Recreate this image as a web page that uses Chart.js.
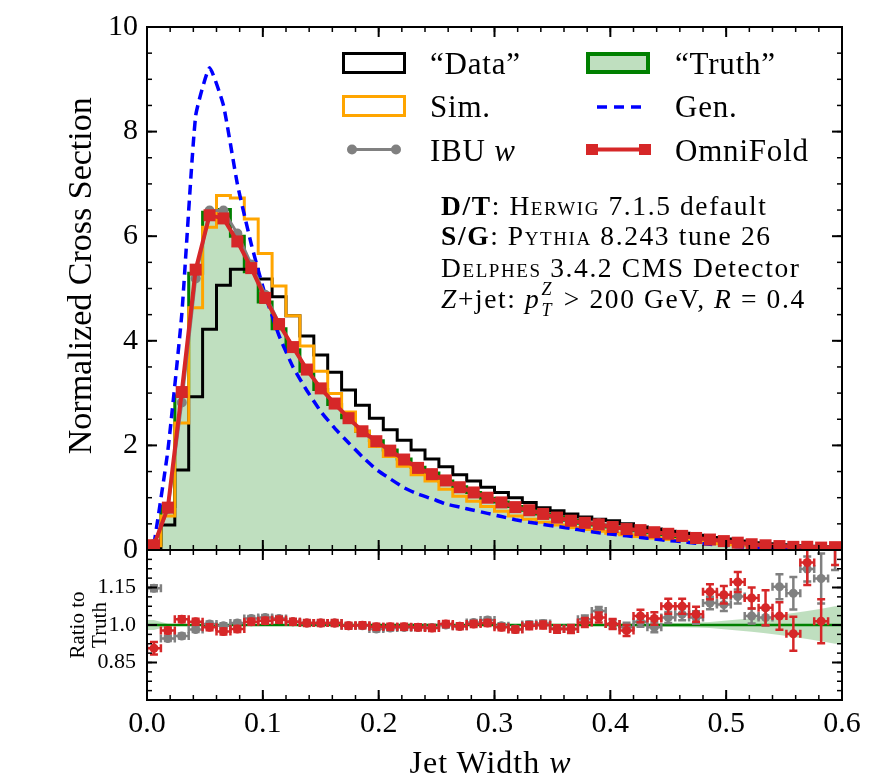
<!DOCTYPE html>
<html>
<head>
<meta charset="utf-8">
<title>Jet width unfolding</title>
<script src="https://cdn.jsdelivr.net/npm/chart.js@4.4.1/dist/chart.umd.min.js"></script>
<style>
  body { margin: 0; background: #fff; }
  #wrap { position: relative; width: 886px; height: 779px; overflow: hidden;
          font-family: "Liberation Serif", "Times New Roman", serif; color: #000; }
  #wrap canvas, #wrap svg { position: absolute; left: 0; }
  .lab { position: absolute; white-space: nowrap; line-height: 1; }
  .leg { font-size: 31px; letter-spacing: 0.8px; }
  .note { font-size: 27.5px; left: 441px; letter-spacing: 1.6px; }
  .sc { font-variant: small-caps; }
  .ss { position: relative; display: inline-block; width: 15px; height: 10px; }
  .ss i { position: absolute; left: 1px; font-size: 18px; line-height: 1; letter-spacing: 0; }
  .ss .sup { top: -18px; }
  .ss .sub { top: 3px; }
</style>
</head>
<body>
<div id="wrap">
  <canvas id="mainChart" width="886" height="590" style="top:0"></canvas>
  <canvas id="ratioChart" width="886" height="259" style="top:520px"></canvas>

  <!-- legend swatches -->
  <svg width="886" height="200" style="top:0">
    <rect x="343.5" y="53.5" width="61" height="19" fill="none" stroke="#000" stroke-width="3"/>
    <rect x="588" y="54" width="60" height="18" fill="rgba(0,128,0,0.25)" stroke="#008000" stroke-width="4"/>
    <rect x="343.5" y="96.5" width="61" height="19" fill="none" stroke="#ffa500" stroke-width="3"/>
    <line x1="597" y1="107" x2="641" y2="107" stroke="#0000ff" stroke-width="3.5" stroke-dasharray="10,7"/>
    <line x1="352" y1="149.5" x2="396" y2="149.5" stroke="#808080" stroke-width="3"/>
    <circle cx="352" cy="149.5" r="5" fill="#808080"/>
    <circle cx="396" cy="149.5" r="5" fill="#808080"/>
    <line x1="592" y1="149.5" x2="645" y2="149.5" stroke="#d62728" stroke-width="4"/>
    <rect x="586" y="144" width="12" height="11" fill="#d62728"/>
    <rect x="639" y="144" width="12" height="11" fill="#d62728"/>
  </svg>

  <div class="lab leg" style="left:430px;top:48px">“Data”</div>
  <div class="lab leg" style="left:675px;top:48px">“Truth”</div>
  <div class="lab leg" style="left:430px;top:91px">Sim.</div>
  <div class="lab leg" style="left:675px;top:91px">Gen.</div>
  <div class="lab leg" style="left:430px;top:135px">IBU <i>w</i></div>
  <div class="lab leg" style="left:675px;top:135px">OmniFold</div>

  <div class="lab note" style="top:192px"><b>D/T</b>: <span class="sc">Herwig</span> 7.1.5 default</div>
  <div class="lab note" style="top:222px"><b>S/G</b>: <span class="sc">Pythia</span> 8.243 tune 26</div>
  <div class="lab note" style="top:254px"><span class="sc">Delphes</span> 3.4.2 CMS Detector</div>
  <div class="lab note" style="top:285px"><i>Z</i>+jet: <i>p</i><span class="ss"><i class="sup">Z</i><i class="sub">T</i></span> &gt; 200 GeV, <i>R</i> = 0.4</div>

  <div class="lab" style="left:143px;width:695px;text-align:center;top:746px;font-size:32px;letter-spacing:1px">Jet Width <i>w</i></div>
</div>

<script>
// bin edges of the jet width histogram (50 bins)
const binEdges = [0.000, 0.012, 0.024, 0.036, 0.048, 0.060, 0.072, 0.084, 0.096, 0.108,
  0.120, 0.132, 0.144, 0.156, 0.168, 0.180, 0.192, 0.204, 0.216, 0.228,
  0.240, 0.252, 0.264, 0.276, 0.288, 0.300, 0.312, 0.324, 0.336, 0.348,
  0.360, 0.372, 0.384, 0.396, 0.408, 0.420, 0.432, 0.444, 0.456, 0.468,
  0.480, 0.492, 0.504, 0.516, 0.528, 0.540, 0.552, 0.564, 0.576, 0.588, 0.600];

// "Data" (detector level, black step)
const dataVals = [0.03, 0.48, 1.53, 2.93, 4.22, 5.06, 5.37, 5.37, 5.18, 4.84,
  4.48, 4.09, 3.73, 3.40, 3.06, 2.77, 2.52, 2.30, 2.10, 1.91,
  1.74, 1.59, 1.44, 1.32, 1.20, 1.10, 1.00, 0.91, 0.81, 0.75,
  0.69, 0.63, 0.59, 0.56, 0.50, 0.44, 0.40, 0.36, 0.32, 0.28,
  0.24, 0.21, 0.17, 0.14, 0.12, 0.10, 0.08, 0.07, 0.06, 0.05];

// "Truth" (filled green)
const truthVals = [0.10, 0.83, 2.95, 5.29, 6.46, 6.51, 6.00, 5.32, 4.74, 4.23,
  3.83, 3.42, 3.07, 2.78, 2.53, 2.27, 2.09, 1.91, 1.74, 1.58,
  1.47, 1.32, 1.21, 1.10, 0.99, 0.92, 0.83, 0.76, 0.69, 0.63,
  0.57, 0.51, 0.48, 0.44, 0.41, 0.37, 0.33, 0.29, 0.25, 0.22,
  0.18, 0.15, 0.12, 0.10, 0.085, 0.072, 0.062, 0.05, 0.045, 0.04];

// Sim. (orange step)
const simVals = [0.08, 0.65, 2.43, 4.63, 6.17, 6.78, 6.73, 6.33, 5.67, 5.05,
  4.48, 3.90, 3.42, 2.99, 2.64, 2.27, 1.98, 1.79, 1.60, 1.44,
  1.32, 1.16, 1.03, 0.93, 0.83, 0.74, 0.65, 0.59, 0.53, 0.48,
  0.43, 0.39, 0.36, 0.32, 0.29, 0.26, 0.23, 0.20, 0.18, 0.16,
  0.14, 0.12, 0.10, 0.08, 0.065, 0.05, 0.04, 0.035, 0.03, 0.025];

// Gen. (blue dashed, at bin centres)
const genVals = [0.10, 1.90, 4.50, 8.30, 9.22, 8.50, 7.00, 5.85, 4.88, 4.10,
  3.50, 3.05, 2.65, 2.33, 2.05, 1.78, 1.54, 1.36, 1.19, 1.07,
  0.98, 0.88, 0.82, 0.76, 0.70, 0.64, 0.58, 0.53, 0.49, 0.45,
  0.41, 0.37, 0.33, 0.30, 0.27, 0.24, 0.21, 0.18, 0.16, 0.13,
  0.11, 0.09, 0.06, 0.05, 0.03, 0.02, 0.02, 0.01, 0.01, 0.01];

// IBU w (gray)
const ibuVals = [0.115, 0.785, 2.82, 5.19, 6.49, 6.49, 6.05, 5.46, 4.88, 4.34,
  3.88, 3.45, 3.09, 2.80, 2.52, 2.26, 2.06, 1.89, 1.72, 1.56,
  1.46, 1.32, 1.20, 1.11, 1.01, 0.92, 0.82, 0.76, 0.69, 0.62,
  0.56, 0.52, 0.51, 0.44, 0.41, 0.375, 0.33, 0.30, 0.26, 0.23,
  0.196, 0.162, 0.134, 0.104, 0.088, 0.083, 0.070, 0.061, 0.053, 0.054];

// OmniFold (red)
const omniVals = [0.091, 0.81, 3.02, 5.36, 6.40, 6.34, 5.90, 5.39, 4.82, 4.32,
  3.88, 3.45, 3.09, 2.80, 2.52, 2.27, 2.08, 1.90, 1.73, 1.57,
  1.45, 1.33, 1.20, 1.10, 1.00, 0.91, 0.82, 0.76, 0.69, 0.62,
  0.56, 0.52, 0.49, 0.44, 0.40, 0.38, 0.34, 0.31, 0.27, 0.23,
  0.20, 0.17, 0.14, 0.11, 0.09, 0.075, 0.06, 0.061, 0.046, 0.054];

// ratio to truth
const ibuRatio = [1.147, 0.946, 0.956, 0.982, 1.004, 0.997, 1.008, 1.026, 1.030, 1.026,
  1.013, 1.008, 1.008, 1.008, 0.997, 0.997, 0.984, 0.988, 0.990, 0.990,
  0.990, 1.000, 0.995, 1.010, 1.020, 0.997, 0.984, 1.002, 1.006, 0.986,
  0.984, 1.023, 1.056, 1.004, 0.991, 1.013, 0.991, 1.030, 1.043, 1.030,
  1.088, 1.082, 1.114, 1.036, 1.030, 1.153, 1.127, 1.224, 1.186, 1.340];
const ibuErr = [0.012, 0.010, 0.010, 0.010, 0.010, 0.010, 0.010, 0.010, 0.010, 0.010,
  0.010, 0.010, 0.010, 0.010, 0.010, 0.010, 0.010, 0.010, 0.010, 0.010,
  0.010, 0.010, 0.010, 0.010, 0.010, 0.010, 0.010, 0.012, 0.012, 0.013,
  0.014, 0.015, 0.016, 0.017, 0.018, 0.020, 0.020, 0.022, 0.024, 0.025,
  0.025, 0.026, 0.028, 0.030, 0.032, 0.050, 0.065, 0.050, 0.100, 0.120];

const omniRatio = [0.907, 0.978, 1.023, 1.013, 0.991, 0.974, 0.984, 1.013, 1.017, 1.021,
  1.013, 1.008, 1.008, 1.008, 0.997, 0.999, 0.993, 0.993, 0.993, 0.991,
  0.988, 1.004, 0.995, 1.004, 1.008, 0.991, 0.982, 0.997, 1.000, 0.984,
  0.984, 1.010, 1.030, 1.004, 0.978, 1.036, 1.026, 1.075, 1.075, 1.043,
  1.133, 1.121, 1.172, 1.108, 1.069, 1.036, 0.965, 1.250, 1.015, 1.360];
const omniErr = [0.025, 0.012, 0.012, 0.012, 0.012, 0.012, 0.012, 0.012, 0.012, 0.012,
  0.012, 0.012, 0.012, 0.012, 0.012, 0.012, 0.012, 0.012, 0.012, 0.012,
  0.012, 0.012, 0.012, 0.012, 0.012, 0.012, 0.012, 0.014, 0.014, 0.015,
  0.016, 0.018, 0.020, 0.020, 0.022, 0.025, 0.025, 0.030, 0.030, 0.030,
  0.030, 0.035, 0.040, 0.042, 0.070, 0.055, 0.068, 0.090, 0.088, 0.120];

// truth statistical band (half width, ratio units)
const truthUnc = [0.020, 0.005, 0.004, 0.003, 0.003, 0.003, 0.003, 0.003, 0.003, 0.003,
  0.003, 0.003, 0.003, 0.003, 0.003, 0.003, 0.003, 0.003, 0.003, 0.003,
  0.003, 0.003, 0.003, 0.003, 0.003, 0.003, 0.003, 0.003, 0.003, 0.003,
  0.003, 0.004, 0.004, 0.005, 0.005, 0.006, 0.007, 0.008, 0.009, 0.010,
  0.012, 0.017, 0.022, 0.027, 0.033, 0.040, 0.048, 0.056, 0.065, 0.075];

// tick labels
const yTicksMain = [0, 2, 4, 6, 8, 10];
const yTicksRatio = [0.85, 1.0, 1.15];
const xTicks = [0, 0.1, 0.2, 0.3, 0.4, 0.5, 0.6];

const RED = '#d62728', GRAY = '#808080', BLUE = '#0000ff', ORANGE = '#ffa500';
const GREEN = '#008000', GREEN_FILL = 'rgba(0,128,0,0.25)';

Chart.defaults.font.family = '"Liberation Serif", "Times New Roman", serif';
Chart.defaults.color = '#000';

const binCenters = binEdges.slice(0, -1).map((e, i) => (e + binEdges[i + 1]) / 2);
const halfBin = (binEdges[1] - binEdges[0]) / 2;
const xLo = binEdges[0], xHi = binEdges[binEdges.length - 1];

// matplotlib-style step outline: up from 0, across each bin, down at the end
function stepPoints(vals) {
  const pts = [{ x: xLo, y: 0 }];
  vals.forEach((v, i) => pts.push({ x: binEdges[i], y: v }));
  pts.push({ x: xHi, y: vals[vals.length - 1] });
  pts.push({ x: xHi, y: 0 });
  return pts;
}
function centerPoints(vals) {
  return vals.map((v, i) => ({ x: binCenters[i], y: v }));
}
function range(a, b, step) {
  const out = [];
  for (let v = a; v <= b + step / 10; v += step) out.push(+v.toFixed(5));
  return out;
}

// frame + inward ticks on all four sides
function makeFrame(cfg) {
  return {
    id: 'frame',
    afterDraw(chart) {
      const { ctx, chartArea: a } = chart;
      const xs = chart.scales.x, ys = chart.scales.y;
      const seg = (x1, y1, x2, y2) => { ctx.beginPath(); ctx.moveTo(x1, y1); ctx.lineTo(x2, y2); ctx.stroke(); };
      ctx.save();
      ctx.strokeStyle = '#000';
      ctx.lineWidth = 1.5;
      cfg.xMinor.forEach(v => { const p = xs.getPixelForValue(v); seg(p, a.bottom, p, a.bottom - 5); seg(p, a.top, p, a.top + 5); });
      cfg.yMinor.forEach(v => { const p = ys.getPixelForValue(v); seg(a.left, p, a.left + 5, p); seg(a.right, p, a.right - 5, p); });
      ctx.lineWidth = 2;
      cfg.xMajor.forEach(v => { const p = xs.getPixelForValue(v); seg(p, a.bottom, p, a.bottom - 10); seg(p, a.top, p, a.top + 10); });
      cfg.yMajor.forEach(v => { const p = ys.getPixelForValue(v); seg(a.left, p, a.left + 10, p); seg(a.right, p, a.right - 10, p); });
      ctx.strokeRect(a.left, a.top, a.right - a.left, a.bottom - a.top);
      ctx.restore();
    }
  };
}

// x/y error bars with caps, drawn under the markers of a dataset
const errorBars = {
  id: 'errorBars',
  beforeDatasetDraw(chart, args) {
    const ds = chart.data.datasets[args.index];
    if (!ds.yErr) return;
    const { ctx, chartArea: a } = chart;
    const xs = chart.scales.x, ys = chart.scales.y;
    const seg = (x1, y1, x2, y2) => { ctx.beginPath(); ctx.moveTo(x1, y1); ctx.lineTo(x2, y2); ctx.stroke(); };
    ctx.save();
    ctx.beginPath();
    ctx.rect(a.left, a.top, a.right - a.left, a.bottom - a.top);
    ctx.clip();
    ctx.strokeStyle = ds.borderColor;
    ctx.lineWidth = 2.5;
    ds.data.forEach((p, i) => {
      const px = xs.getPixelForValue(p.x);
      const x0 = xs.getPixelForValue(p.x - halfBin), x1 = xs.getPixelForValue(p.x + halfBin);
      const py = ys.getPixelForValue(p.y);
      const yLo = ys.getPixelForValue(p.y - ds.yErr[i]), yHi = ys.getPixelForValue(p.y + ds.yErr[i]);
      seg(px, yLo, px, yHi);
      seg(px - 4, yLo, px + 4, yLo);
      seg(px - 4, yHi, px + 4, yHi);
      seg(x0, py, x1, py);
      seg(x0, py - 4, x0, py + 4);
      seg(x1, py - 4, x1, py + 4);
    });
    ctx.restore();
  }
};

// main panel
new Chart(document.getElementById('mainChart'), {
  type: 'line',
  data: {
    datasets: [
      { label: 'OmniFold', data: centerPoints(omniVals), borderColor: RED, backgroundColor: RED,
        borderWidth: 4, pointStyle: 'rect', pointRadius: 8.5, pointBorderWidth: 0, order: 0 },
      { label: 'IBU w', data: centerPoints(ibuVals), borderColor: GRAY, backgroundColor: GRAY,
        borderWidth: 3, pointRadius: 5, pointBorderWidth: 0, order: 1 },
      { label: 'Gen.', data: centerPoints(genVals), borderColor: BLUE, borderWidth: 3.5,
        borderDash: [10, 6], pointRadius: 0, tension: 0.15, order: 2 },
      { label: 'Sim.', data: stepPoints(simVals), borderColor: ORANGE, borderWidth: 3,
        stepped: 'before', pointRadius: 0, order: 3 },
      { label: '"Data"', data: stepPoints(dataVals), borderColor: '#000', borderWidth: 3,
        stepped: 'before', pointRadius: 0, order: 4 },
      { label: '"Truth"', data: stepPoints(truthVals), borderColor: GREEN, backgroundColor: GREEN_FILL,
        borderWidth: 3, stepped: 'before', fill: 'origin', pointRadius: 0, order: 5 }
    ]
  },
  options: {
    responsive: false,
    animation: false,
    events: [],
    layout: { padding: { left: 62, right: 44, top: 24, bottom: 40 } },
    plugins: { legend: { display: false }, tooltip: { enabled: false } },
    scales: {
      x: { type: 'linear', min: 0, max: 0.6, display: false },
      y: {
        type: 'linear', min: 0, max: 10,
        afterBuildTicks: s => { s.ticks = yTicksMain.map(v => ({ value: v })); },
        afterFit: s => { s.width = 85; },
        grid: { display: false, drawTicks: false },
        border: { display: false },
        ticks: { font: { size: 30 }, padding: 9, color: '#000', callback: v => String(v) },
        // leading spaces nudge the rotated label upward, as in the original
        title: { display: true, text: '   Normalized Cross Section', font: { size: 34, lineHeight: 1.2 },
                 padding: 0, color: '#000' }
      }
    }
  },
  plugins: [makeFrame({ xMajor: xTicks, xMinor: range(0, 0.6, 0.02), yMajor: yTicksMain, yMinor: range(0, 10, 0.5) })]
});

// ratio panel
const bandX = [xLo, ...binCenters, xHi];
const bandU = [truthUnc[0], ...truthUnc, truthUnc[truthUnc.length - 1]];

new Chart(document.getElementById('ratioChart'), {
  type: 'line',
  data: {
    datasets: [
      { label: 'band low', data: bandX.map((x, i) => ({ x, y: 1 - bandU[i] })), borderWidth: 0,
        pointRadius: 0, order: 4 },
      { label: 'band high', data: bandX.map((x, i) => ({ x, y: 1 + bandU[i] })), borderWidth: 0,
        pointRadius: 0, fill: '-1', backgroundColor: GREEN_FILL, order: 3 },
      { label: 'unity', data: [{ x: xLo, y: 1 }, { x: xHi, y: 1 }], borderColor: GREEN, borderWidth: 2.5,
        pointRadius: 0, order: 2 },
      { label: 'IBU', data: centerPoints(ibuRatio), yErr: ibuErr, showLine: false, borderColor: GRAY,
        backgroundColor: GRAY, pointRadius: 4.5, pointBorderWidth: 0, order: 1 },
      { label: 'OmniFold', data: centerPoints(omniRatio), yErr: omniErr, showLine: false, borderColor: RED,
        backgroundColor: RED, pointRadius: 4.5, pointBorderWidth: 0, order: 0 }
    ]
  },
  options: {
    responsive: false,
    animation: false,
    events: [],
    layout: { padding: { left: 67, right: 44, top: 30, bottom: 0 } },
    plugins: { legend: { display: false }, tooltip: { enabled: false } },
    scales: {
      x: {
        type: 'linear', min: 0, max: 0.6,
        afterBuildTicks: s => { s.ticks = xTicks.map(v => ({ value: v })); },
        afterFit: s => { s.height = 79; },
        grid: { display: false, drawTicks: false },
        border: { display: false },
        ticks: { font: { size: 30 }, padding: 6, color: '#000', maxRotation: 0, callback: v => v.toFixed(1) }
      },
      y: {
        type: 'linear', min: 0.7, max: 1.3,
        afterBuildTicks: s => { s.ticks = yTicksRatio.map(v => ({ value: v })); },
        afterFit: s => { s.width = 80; },
        grid: { display: false, drawTicks: false },
        border: { display: false },
        ticks: { font: { size: 22 }, padding: 11, color: '#000', callback: v => (v === 1 ? '1.0' : v.toFixed(2)) },
        title: { display: true, text: ['Ratio to', 'Truth'], font: { size: 21, lineHeight: 1.05 },
                 padding: 0, color: '#000' }
      }
    }
  },
  plugins: [errorBars, makeFrame({ xMajor: xTicks, xMinor: range(0, 0.6, 0.02), yMajor: yTicksRatio, yMinor: range(0.7, 1.3, 0.0375) })]
});
</script>
</body>
</html>
